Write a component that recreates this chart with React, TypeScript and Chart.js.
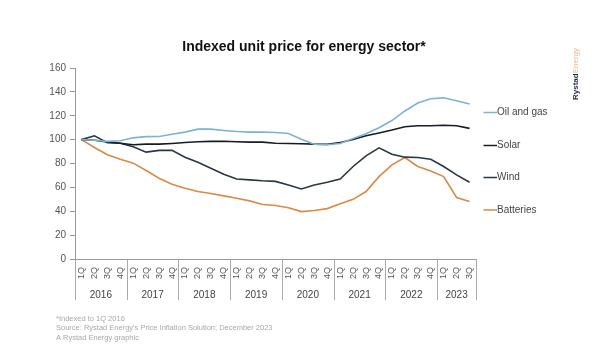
import React, { useEffect, useRef } from "react";
import { Chart, registerables } from "chart.js";

Chart.register(...registerables);

const years = ["2016", "2017", "2018", "2019", "2020", "2021", "2022", "2023"];
const quarterNames = ["1Q", "2Q", "3Q", "4Q"];
const quarterLabels: string[] = [];
const quarterYears: string[] = [];
years.forEach((y) => {
  quarterNames.forEach((q) => {
    if (y === "2023" && q === "4Q") return;
    quarterLabels.push(q);
    quarterYears.push(y);
  });
});

const oilAndGas = [100, 99.5, 98.5, 99, 101.5, 102.5, 102.6, 104.5, 106.3, 108.8, 108.8, 107.7, 106.8, 106.3, 106.3, 106, 105.2, 100.4, 96.2, 95.7, 96.8, 101, 105, 110, 116, 124, 130.6, 134.3, 135, 132.6, 129.8];
const solar = [100, 99.5, 98, 97, 95.7, 96.2, 96.2, 96.8, 97.6, 98.2, 98.5, 98.7, 98.2, 97.9, 97.9, 97, 96.8, 96.5, 96.2, 96, 97.6, 100.1, 103.2, 105.5, 108, 110.8, 111.6, 111.6, 112, 111.6, 109.4];
const wind = [100, 103.2, 97.5, 97, 94, 89.5, 91, 91, 85.3, 81, 76, 71, 67, 66.3, 65.5, 65, 62, 58.7, 62, 64.3, 67, 77.5, 86.4, 93.1, 87.8, 85.3, 85, 83.6, 77.5, 70.5, 64.3];
const batteries = [100, 93.4, 87.3, 83.6, 80.3, 74.1, 67.7, 62.7, 59.3, 56.5, 54.8, 52.9, 50.9, 48.7, 45.6, 44.8, 43, 39.7, 40.6, 42.2, 46.2, 50, 56.5, 69, 78.9, 85, 77.5, 73.8, 69.1, 51.5, 48.1];

const seriesNames = ["Oil and gas", "Solar", "Wind", "Batteries"];
const seriesColors = ["#7ab3d6", "#161c26", "#2a3646", "#d98a45"];
const yTicks = [0, 20, 40, 60, 80, 100, 120, 140, 160];
const titleText = "Indexed unit price for energy sector*";
const footnotes = [
  "*Indexed to 1Q 2016",
  "Source: Rystad Energy's Price Inflation Solution; December 2023",
  "A Rystad Energy graphic",
];

const FONT = "'Liberation Sans', Arial, sans-serif";

const decorPlugin = {
  id: "decor",
  afterDraw(chart: any) {
    const ctx = chart.ctx;
    const x = chart.scales.x;
    const area = chart.chartArea;
    ctx.save();
    // title
    ctx.fillStyle = "#111";
    ctx.font = `bold 14px ${FONT}`;
    ctx.textAlign = "center";
    ctx.textBaseline = "middle";
    ctx.fillText(titleText, 304, 47);

    // year separators and labels
    ctx.strokeStyle = "#aaa";
    ctx.lineWidth = 1;
    const starts: number[] = [];
    quarterYears.forEach((y, i) => {
      if (i === 0 || quarterYears[i - 1] !== y) starts.push(i);
    });
    starts.push(quarterYears.length);
    for (let k = 0; k < starts.length; k++) {
      const px = Math.round(x.getPixelForValue(starts[k] - 0.5)) + 0.5;
      ctx.beginPath();
      ctx.moveTo(px, area.bottom);
      ctx.lineTo(px, 300);
      ctx.stroke();
    }
    ctx.fillStyle = "#444";
    ctx.font = `10px ${FONT}`;
    ctx.textAlign = "center";
    for (let k = 0; k < starts.length - 1; k++) {
      const a = x.getPixelForValue(starts[k] - 0.5);
      const b = x.getPixelForValue(starts[k + 1] - 0.5);
      ctx.fillText(quarterYears[starts[k]], (a + b) / 2, 295);
    }

    // legend
    chart.data.datasets.forEach((ds: any, i: number) => {
      const ly = [112.5, 145.5, 177.5, 210][i];
      ctx.strokeStyle = ds.borderColor;
      ctx.lineWidth = 1.5;
      ctx.beginPath();
      ctx.moveTo(483.5, ly);
      ctx.lineTo(497, ly);
      ctx.stroke();
      ctx.fillStyle = "#444";
      ctx.font = `10px ${FONT}`;
      ctx.textAlign = "left";
      ctx.textBaseline = "middle";
      ctx.fillText(ds.label, 497, ly);
    });

    // footnotes
    ctx.fillStyle = "#a8a8a8";
    ctx.font = `7.5px ${FONT}`;
    ctx.textAlign = "left";
    footnotes.forEach((t, i) => ctx.fillText(t, 56, 319 + i * 9.3));

    // logo
    ctx.translate(576, 100);
    ctx.rotate(-Math.PI / 2);
    ctx.font = `bold 8px ${FONT}`;
    ctx.textAlign = "left";
    ctx.textBaseline = "middle";
    ctx.fillStyle = "#1f2a3a";
    ctx.fillText("Rystad", 0, 0);
    const w = ctx.measureText("Rystad").width;
    ctx.fillStyle = "#e8b88a";
    ctx.font = `8px ${FONT}`;
    ctx.fillText("Energy", w, 0);
    ctx.restore();
  },
};

export default function App() {
  const ref = useRef<HTMLCanvasElement>(null);
  useEffect(() => {
    if (!ref.current) return;
    const data = [oilAndGas, solar, wind, batteries];
    const chart = new Chart(ref.current, {
      type: "line",
      data: {
        labels: quarterLabels,
        datasets: data.map((d, i) => ({
          label: seriesNames[i],
          data: d,
          borderColor: seriesColors[i],
          backgroundColor: seriesColors[i],
          borderWidth: 1.6,
          pointRadius: 0,
          tension: 0,
          fill: false,
        })),
      },
      options: {
        animation: false,
        responsive: true,
        maintainAspectRatio: false,
        layout: { padding: { left: 35, right: 123, top: 68, bottom: 57 } },
        plugins: { legend: { display: false }, tooltip: { enabled: false }, title: { display: false } },
        scales: {
          x: {
            type: "category",
            offset: true,
            grid: { display: false, drawTicks: false },
            border: { display: true, color: "#999", width: 1 },
            ticks: {
              minRotation: 90,
              maxRotation: 90,
              autoSkip: false,
              padding: 8,
              color: "#555",
              font: { size: 9, family: FONT },
            },
            afterFit: (s: any) => { s.height = 45; },
          },
          y: {
            min: 0,
            max: 160,
            afterBuildTicks: (s: any) => { s.ticks = yTicks.map((v) => ({ value: v })); },
            grid: { drawOnChartArea: false, drawTicks: true, tickLength: 5, color: "#999" },
            border: { display: true, color: "#999", width: 1 },
            ticks: { color: "#555", padding: 4, font: { size: 10, family: FONT } },
            afterFit: (s: any) => { s.width = 40; },
          },
        },
      },
      plugins: [decorPlugin],
    });
    return () => chart.destroy();
  }, []);
  return (
    <div style={{ position: "absolute", left: 0, top: 0, width: 599, height: 361, background: "#fff" }}>
      <canvas ref={ref} />
    </div>
  );
}
